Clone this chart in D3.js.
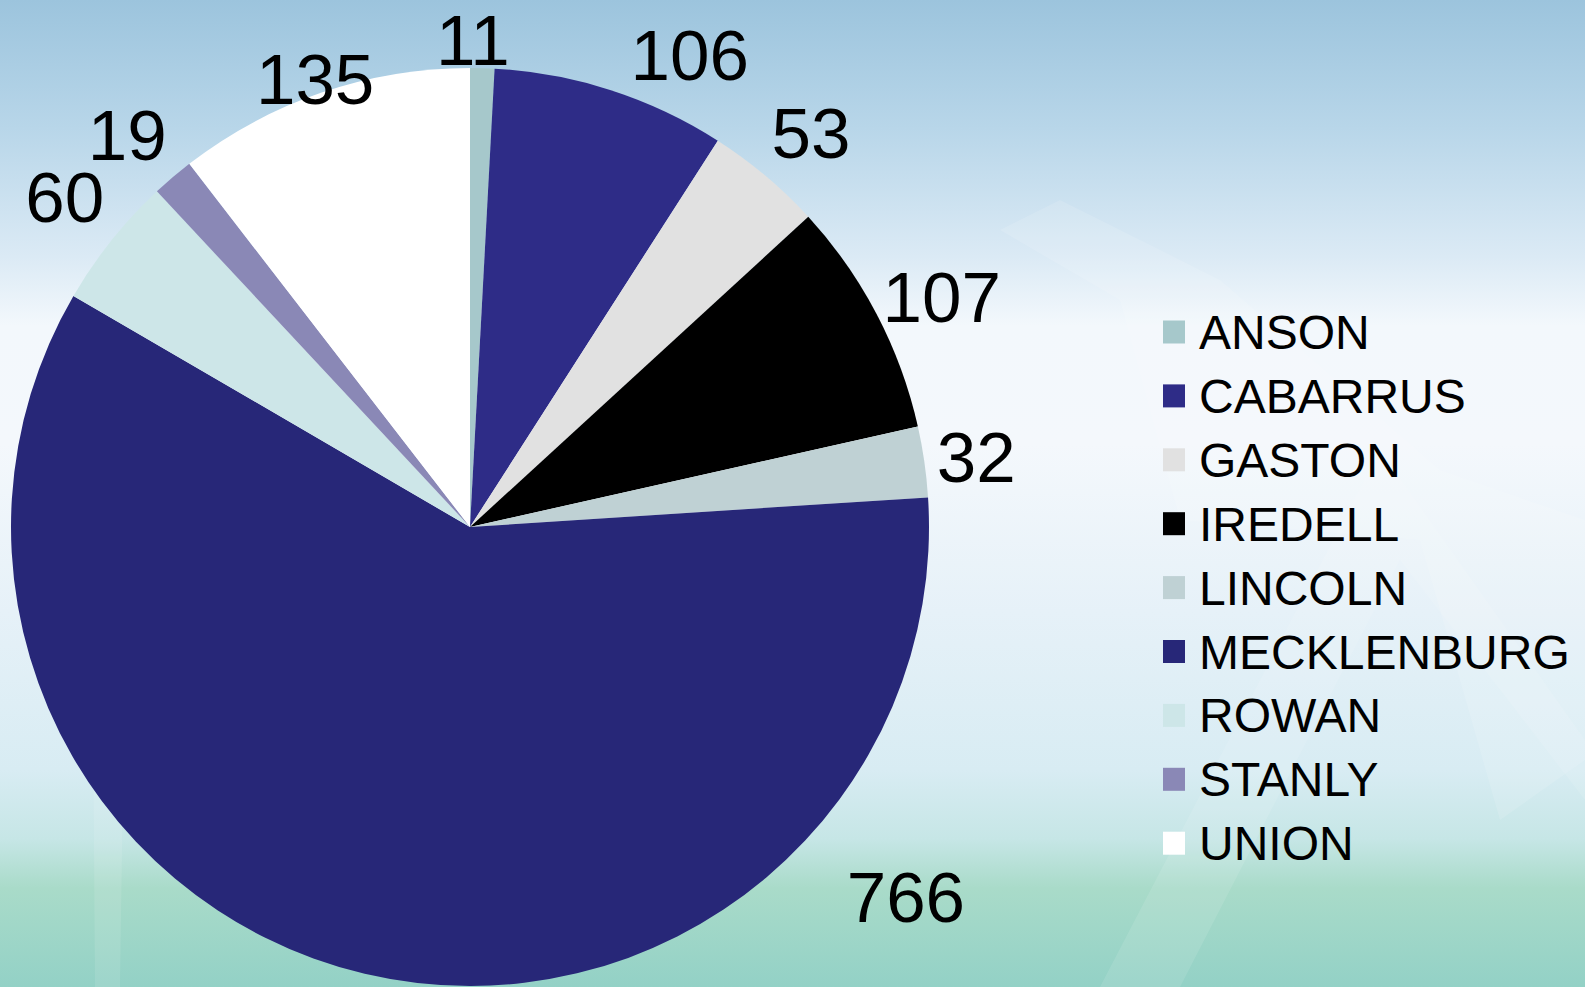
<!DOCTYPE html>
<html>
<head>
<meta charset="utf-8">
<script src="https://cdn.jsdelivr.net/npm/d3@7/dist/d3.min.js"></script>
<style>
  html, body { margin: 0; padding: 0; overflow: hidden; }
  svg { display: block; font-family: "Liberation Sans", Arial, sans-serif; }
</style>
</head>
<body>
<svg id="chart" width="1585" height="987"></svg>
<script>
// data
var counties = ['ANSON', 'CABARRUS', 'GASTON', 'IREDELL', 'LINCOLN', 'MECKLENBURG', 'ROWAN', 'STANLY', 'UNION'];
var counts = [11, 106, 53, 107, 32, 766, 60, 19, 135];
var sliceColors = ['#a6c8cb', '#2e2c87', '#e1e1e1', '#000000', '#bfd1d4', '#272778', '#cde6e8', '#8a88b6', '#ffffff'];

var width = 1585, height = 987,
    cx = 470, cy = 527, radius = 459,
    labelDist = 490;

// Excel-like "best fit" tweaks (degrees shift of the anchor, anchor distance)
var labelTweak = {
    ANSON: {shift: -1.2, dist: 462},
    CABARRUS: {shift: 5.7, dist: 490},
    IREDELL: {shift: 0, dist: 473},
    LINCOLN: {shift: 0, dist: 472},
    MECKLENBURG: {shift: -61.3, dist: 527},
    ROWAN: {shift: 1.3, dist: 489},
    UNION: {shift: 1, dist: 446}
};

var svg = d3.select('#chart');

// background
var defs = svg.append('defs');
var bg = defs.append('linearGradient').attr('id', 'bg')
    .attr('x1', 0).attr('y1', 0).attr('x2', 0).attr('y2', 1);
[[0, '#9cc4dd'], [0.13, '#b8d6e9'], [0.26, '#dbeaf5'], [0.33, '#f3f8fc'], [0.45, '#f4f8fc'],
 [0.62, '#e6f1f8'], [0.78, '#d8ecf3'], [0.85, '#c6e6e6'], [0.9, '#a9dbc9'], [1, '#93d1c6']]
    .forEach(function (s) {
        bg.append('stop').attr('offset', s[0]).attr('stop-color', s[1]);
    });
svg.append('rect').attr('width', width).attr('height', height).attr('fill', 'url(#bg)');

// faint decorative chevrons
var deco = svg.append('g').attr('fill', '#ffffff').attr('fill-opacity', 0.12);
deco.append('path').attr('d', 'M1000,230 L1120,300 L1180,520 L1420,540 L1500,820 L1585,760 L1585,520 L1440,470 L1220,280 L1060,200 Z');
deco.append('path').attr('d', 'M1100,987 L1380,450 L1585,740 L1585,800 L1400,560 L1180,987 Z').attr('fill-opacity', 0.1);
deco.append('path').attr('d', 'M90,300 L130,300 L120,987 L95,987 Z').attr('fill-opacity', 0.1);

// pie
var pie = d3.pie().sort(null).value(function (d) { return d.value; });
var arc = d3.arc().innerRadius(0).outerRadius(radius);
var rows = counties.map(function (c, i) {
    return {name: c, value: counts[i], color: sliceColors[i]};
});
var arcs = pie(rows);

var g = svg.append('g').attr('transform', 'translate(' + cx + ',' + cy + ')');
g.selectAll('path.slice')
    .data(arcs)
    .enter().append('path')
    .attr('class', 'slice')
    .attr('d', arc)
    .attr('fill', function (d) { return d.data.color; });

// data labels
var fontSize = 71, capH = fontSize * 0.716;
g.selectAll('text.val')
    .data(arcs)
    .enter().append('text')
    .attr('class', 'val')
    .attr('font-size', fontSize)
    .attr('text-anchor', 'middle')
    .attr('fill', '#000')
    .text(function (d) { return d.data.value; })
    .each(function (d) {
        var t = labelTweak[d.data.name] || {shift: 0, dist: labelDist},
            a = (d.startAngle + d.endAngle) / 2 + t.shift * Math.PI / 180,
            w = this.getComputedTextLength(),
            px = t.dist * Math.sin(a),
            py = -t.dist * Math.cos(a),
            x = px + Math.sin(a) * w / 2,
            y = py - Math.cos(a) * capH / 2;
        d3.select(this).attr('x', x).attr('y', y + capH / 2);
    });

// legend
var legendX = 1163, legendY = 332, legendStep = 63.9;
var legend = svg.append('g').attr('class', 'legend');
var item = legend.selectAll('g')
    .data(rows)
    .enter().append('g')
    .attr('transform', function (d, i) {
        return 'translate(' + legendX + ',' + (legendY + i * legendStep) + ')';
    });
item.append('rect')
    .attr('x', 0).attr('y', -11.5)
    .attr('width', 22).attr('height', 23)
    .attr('fill', function (d) { return d.color; });
item.append('text')
    .attr('x', 36)
    .attr('y', 17)
    .attr('font-size', 48)
    .attr('fill', '#000')
    .text(function (d) { return d.name; });
</script>
</body>
</html>
